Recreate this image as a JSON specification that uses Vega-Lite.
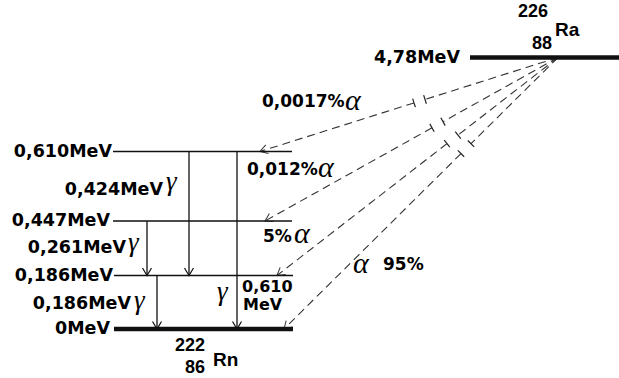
{
  "$schema": "https://vega.github.io/schema/vega-lite/v6.json",
  "width": 619,
  "height": 378,
  "padding": 0,
  "autosize": {"type": "none"},
  "background": "white",
  "config": {"view": {"stroke": null}},
  "datasets": {
    "levels": [
      {"level": "4,78MeV", "E": 4.78, "col": 470, "col2": 619, "state": "ground"},
      {"level": "0,610MeV", "E": 0.61, "col": 113, "col2": 292, "state": "excited"},
      {"level": "0,447MeV", "E": 0.447, "col": 113, "col2": 292, "state": "excited"},
      {"level": "0,186MeV", "E": 0.186, "col": 114, "col2": 293, "state": "excited"},
      {"level": "0MeV", "E": 0, "col": 114, "col2": 293, "state": "ground"}
    ],
    "levelLabels": [
      {"t": "4,78MeV", "col": 460, "E": 4.78},
      {"t": "0,610MeV", "col": 112, "E": 0.61},
      {"t": "0,447MeV", "col": 110, "E": 0.447},
      {"t": "0,186MeV", "col": 113, "E": 0.186},
      {"t": "0MeV", "col": 110, "E": 0}
    ],
    "gammas": [
      {"energy": "0,424MeV", "col": 189, "E": 0.61, "E2": 0.186},
      {"energy": "0,610MeV", "col": 237, "E": 0.61, "E2": 0},
      {"energy": "0,261MeV", "col": 147, "E": 0.447, "E2": 0.186},
      {"energy": "0,186MeV", "col": 157, "E": 0.186, "E2": 0}
    ],
    "gammaHeads": [
      {"energy": "0,424MeV", "col": 189, "E": 0.186},
      {"energy": "0,610MeV", "col": 237, "E": 0},
      {"energy": "0,261MeV", "col": 147, "E": 0.186},
      {"energy": "0,186MeV", "col": 157, "E": 0}
    ],
    "alphaSegments": [
      {"branch": "0,0017%", "part": "upper", "col": 558, "E": 4.78, "col2": 425, "E2": 2.919},
      {"branch": "0,0017%", "part": "lower", "col": 414, "E": 2.766, "col2": 260, "E2": 0.61},
      {"branch": "0,012%", "part": "upper", "col": 558, "E": 4.78, "col2": 443, "E2": 1.932},
      {"branch": "0,012%", "part": "lower", "col": 432, "E": 1.661, "col2": 265, "E2": 0.447},
      {"branch": "5%", "part": "upper", "col": 558, "E": 4.78, "col2": 458, "E2": 1.3375},
      {"branch": "5%", "part": "lower", "col": 447, "E": 0.96, "col2": 277, "E2": 0.186},
      {"branch": "95%", "part": "upper", "col": 558, "E": 4.78, "col2": 471, "E2": 0.956},
      {"branch": "95%", "part": "lower", "col": 461, "E": 0.6051, "col2": 284, "E2": 0}
    ],
    "alphaHeads": [
      {"branch": "0,0017%", "col": 260, "E": 0.61, "angle": 72.5},
      {"branch": "0,012%", "col": 265, "E": 0.447, "angle": 60.8},
      {"branch": "5%", "col": 277, "E": 0.186, "angle": 52.2},
      {"branch": "95%", "col": 284, "E": 0, "angle": 45.3}
    ],
    "breaks": [
      {"col": 415.35, "E": 2.576, "col2": 412.65, "E2": 2.956},
      {"col": 426.35, "E": 2.729, "col2": 423.65, "E2": 3.109},
      {"col": 434.19, "E": 1.487, "col2": 429.81, "E2": 1.836},
      {"col": 445.19, "E": 1.758, "col2": 440.81, "E2": 2.106},
      {"col": 449.76, "E": 0.8025, "col2": 444.24, "E2": 1.1184},
      {"col": 460.76, "E": 1.1796, "col2": 455.24, "E2": 1.4955},
      {"col": 464.17, "E": 0.5976, "col2": 457.83, "E2": 0.6588},
      {"col": 474.17, "E": 0.814, "col2": 467.83, "E2": 1.098}
    ],
    "gammaLabels": [
      {"t": "0,424MeV", "col": 163, "E": 0.5197},
      {"t": "0,261MeV", "col": 126, "E": 0.3177},
      {"t": "0,186MeV", "col": 131, "E": 0.0869}
    ],
    "gammaSymbols": [
      {"t": "γ", "col": 166, "E": 0.5188},
      {"t": "γ", "col": 128, "E": 0.3048},
      {"t": "γ", "col": 134, "E": 0.0681},
      {"t": "γ", "col": 217, "E": 0.0994}
    ],
    "alphaLabels": [
      {"t": "0,0017%", "col": 262, "E": 2.784},
      {"t": "0,012%", "col": 247, "E": 0.5666},
      {"t": "5%", "col": 263, "E": 0.368},
      {"t": "95%", "col": 383, "E": 0.2339}
    ],
    "alphaSymbols": [
      {"t": "α", "col": 345, "E": 2.451},
      {"t": "α", "col": 318, "E": 0.5502},
      {"t": "α", "col": 294, "E": 0.3416},
      {"t": "α", "col": 353, "E": 0.198}
    ],
    "unitLabels": [
      {"t": "0,610", "col": 242, "E": 0.146},
      {"t": "MeV", "col": 243, "E": 0.0834}
    ],
    "nuclideNumbers": [
      {"t": "226", "col": 533, "E": 6.798},
      {"t": "88", "col": 542, "E": 5.401},
      {"t": "222", "col": 190, "E": -0.0608},
      {"t": "86", "col": 195, "E": -0.1373}
    ],
    "nuclideSymbols": [
      {"t": "Ra", "col": 555, "E": 6.0},
      {"t": "Rn", "col": 213, "E": -0.1078}
    ]
  },
  "encoding": {
    "x": {"field": "col", "type": "quantitative", "scale": {"domain": [0, 619], "range": [0, 619], "nice": false, "zero": false}, "axis": null},
    "y": {"field": "E", "type": "quantitative", "scale": {"domain": [0, 0.186, 0.447, 0.61, 4.78], "range": [329, 275.5, 221, 151.5, 57.5], "nice": false, "zero": false}, "axis": null}
  },
  "layer": [
    {
      "data": {"name": "alphaSegments"},
      "mark": {"type": "rule", "color": "#333", "strokeWidth": 1.1, "strokeDash": [8, 5]},
      "encoding": {"x2": {"field": "col2"}, "y2": {"field": "E2"}}
    },
    {
      "data": {"name": "breaks"},
      "mark": {"type": "rule", "color": "#222", "strokeWidth": 1.2},
      "encoding": {"x2": {"field": "col2"}, "y2": {"field": "E2"}}
    },
    {
      "data": {"name": "alphaHeads"},
      "mark": {"type": "point", "shape": "M-0.6,-1L0,0L0.6,-1", "size": 225, "filled": false, "color": "#333", "strokeWidth": 1, "opacity": 1},
      "encoding": {"angle": {"field": "angle", "type": "quantitative", "scale": null}}
    },
    {
      "data": {"name": "levels"},
      "mark": {"type": "rule", "color": "#111"},
      "encoding": {
        "x2": {"field": "col2"},
        "strokeWidth": {"field": "state", "type": "nominal", "scale": {"domain": ["ground", "excited"], "range": [4.5, 1.4]}, "legend": null}
      }
    },
    {
      "data": {"name": "gammas"},
      "mark": {"type": "rule", "color": "#111", "strokeWidth": 1.3},
      "encoding": {"y2": {"field": "E2"}}
    },
    {
      "data": {"name": "gammaHeads"},
      "mark": {"type": "point", "shape": "M-0.6,-1L0,0L0.6,-1", "size": 225, "filled": false, "color": "#111", "strokeWidth": 1.2, "opacity": 1}
    },
    {
      "data": {"name": "levelLabels"},
      "mark": {"type": "text", "align": "right", "baseline": "middle", "font": "DejaVu Sans", "fontWeight": "bold", "fontSize": 17.5, "color": "#000"},
      "encoding": {"text": {"field": "t"}}
    },
    {
      "data": {"name": "gammaLabels"},
      "mark": {"type": "text", "align": "right", "baseline": "middle", "font": "DejaVu Sans", "fontWeight": "bold", "fontSize": 17.5, "color": "#000"},
      "encoding": {"text": {"field": "t"}}
    },
    {
      "data": {"name": "alphaLabels"},
      "mark": {"type": "text", "align": "left", "baseline": "middle", "font": "DejaVu Sans", "fontWeight": "bold", "fontSize": 17, "color": "#000"},
      "encoding": {"text": {"field": "t"}}
    },
    {
      "data": {"name": "unitLabels"},
      "mark": {"type": "text", "align": "left", "baseline": "middle", "font": "DejaVu Sans", "fontWeight": "bold", "fontSize": 16, "color": "#000"},
      "encoding": {"text": {"field": "t"}}
    },
    {
      "data": {"name": "gammaSymbols"},
      "mark": {"type": "text", "align": "left", "baseline": "alphabetic", "font": "Liberation Serif", "fontStyle": "italic", "fontSize": 27, "color": "#000"},
      "encoding": {"text": {"field": "t"}}
    },
    {
      "data": {"name": "alphaSymbols"},
      "mark": {"type": "text", "align": "left", "baseline": "alphabetic", "font": "Liberation Serif", "fontStyle": "italic", "fontSize": 30, "color": "#000"},
      "encoding": {"text": {"field": "t"}}
    },
    {
      "data": {"name": "nuclideNumbers"},
      "mark": {"type": "text", "align": "center", "baseline": "middle", "font": "Liberation Sans", "fontWeight": "bold", "fontSize": 18, "color": "#000"},
      "encoding": {"text": {"field": "t"}}
    },
    {
      "data": {"name": "nuclideSymbols"},
      "mark": {"type": "text", "align": "left", "baseline": "middle", "font": "Liberation Sans", "fontWeight": "bold", "fontSize": 19, "color": "#000"},
      "encoding": {"text": {"field": "t"}}
    }
  ]
}
